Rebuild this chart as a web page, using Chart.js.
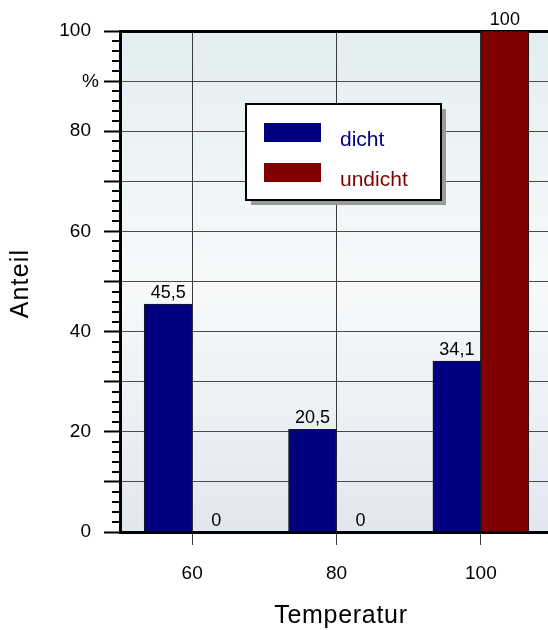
<!DOCTYPE html>
<html>
<head>
<meta charset="utf-8">
<script src="https://cdn.jsdelivr.net/npm/chart.js@4/dist/chart.umd.min.js"></script>
<style>
  html, body { margin: 0; padding: 0; background: #fff; overflow: hidden; }
  canvas { display: block; }
</style>
</head>
<body>
<canvas id="c" width="548" height="630"></canvas>
<script>
// Share of tight / leaky samples per temperature
const temperatures = [60, 80, 100];
const dichtValues = [45.5, 20.5, 34.1];
const undichtValues = [0, 0, 100];
const seriesNames = ['dicht', 'undicht'];
const yLabeledTicks = [0, 20, 40, 60, 80, 100];
const yUnitLabel = '%';
const yUnitTick = 90;
const xTitle = 'Temperatur';
const yTitle = 'Anteil';

const FONT = '"Liberation Sans", Arial, Helvetica, sans-serif';
const NAVY = '#000080';
const MAROON = '#800000';

function fmt(v) { return String(v).replace('.', ','); }

// Soft vertical gradient behind the plot
const backgroundPlugin = {
  id: 'plotBackground',
  beforeDraw(chart) {
    const { ctx, chartArea: a } = chart;
    const g = ctx.createLinearGradient(0, a.top, 0, a.bottom);
    g.addColorStop(0, '#e2eef0');
    g.addColorStop(0.5, '#f7f9fa');
    g.addColorStop(1, '#e2e6ef');
    ctx.save();
    ctx.fillStyle = g;
    ctx.fillRect(a.left, a.top, a.right - a.left, a.bottom - a.top);
    ctx.restore();
  }
};

// Minor ticks on the value axis, the unit label and both axis titles
const axisExtrasPlugin = {
  id: 'axisExtras',
  afterDraw(chart) {
    const { ctx, chartArea: a } = chart;
    const y = chart.scales.y;
    ctx.save();
    ctx.strokeStyle = '#000';
    ctx.lineWidth = 2;
    for (let v = y.min; v <= y.max; v += 2) {
      if (v % 10 === 0) continue;
      const py = Math.round(y.getPixelForValue(v));
      ctx.beginPath();
      ctx.moveTo(y.right - 8, py);
      ctx.lineTo(y.right, py);
      ctx.stroke();
    }
    ctx.fillStyle = '#000';
    ctx.font = '19px ' + FONT;
    ctx.textAlign = 'right';
    ctx.textBaseline = 'middle';
    ctx.fillText(yUnitLabel, y.right - 21, y.getPixelForValue(yUnitTick) + 1);

    // axis titles
    ctx.font = '25px ' + FONT;
    ctx.textAlign = 'center';
    ctx.textBaseline = 'alphabetic';
    ctx.letterSpacing = '0.7px';
    ctx.fillText(xTitle, (a.left + a.right) / 2 + 7, chart.height - 7);
    ctx.save();
    ctx.translate(28, (a.top + a.bottom) / 2 + 2);
    ctx.rotate(-Math.PI / 2);
    ctx.letterSpacing = '1.2px';
    ctx.fillText(yTitle, 0, 0);
    ctx.restore();
    ctx.restore();
  }
};

// Value labels above every bar
const valueLabelPlugin = {
  id: 'valueLabels',
  afterDatasetsDraw(chart) {
    const { ctx } = chart;
    ctx.save();
    ctx.fillStyle = '#000';
    ctx.font = '18px ' + FONT;
    ctx.textAlign = 'center';
    ctx.textBaseline = 'alphabetic';
    chart.data.datasets.forEach((ds, di) => {
      const meta = chart.getDatasetMeta(di);
      meta.data.forEach((el, i) => {
        ctx.fillText(fmt(ds.data[i]), el.x, el.y - 6);
      });
    });
    ctx.restore();
  }
};

// Boxed legend with drop shadow inside the plot
const boxLegendPlugin = {
  id: 'boxLegend',
  afterDraw(chart) {
    const { ctx, chartArea: a } = chart;
    const x = a.left + 126, yTop = a.top + 73, w = 195, h = 96;
    ctx.save();
    ctx.fillStyle = '#9a9a9a';
    ctx.fillRect(x + 5, yTop + 5, w, h);
    ctx.fillStyle = '#fff';
    ctx.fillRect(x, yTop, w, h);
    ctx.strokeStyle = '#000';
    ctx.lineWidth = 2;
    ctx.strokeRect(x, yTop, w, h);
    ctx.font = '21px ' + FONT;
    ctx.textAlign = 'left';
    ctx.textBaseline = 'alphabetic';
    chart.data.datasets.forEach((ds, i) => {
      const sy = yTop + 19 + i * 40;
      ctx.fillStyle = ds.backgroundColor;
      ctx.fillRect(x + 18, sy, 57, 19);
      ctx.fillText(ds.label, x + 94, sy + 23);
    });
    ctx.restore();
  }
};

new Chart(document.getElementById('c'), {
  type: 'bar',
  data: {
    labels: temperatures,
    datasets: [
      { label: seriesNames[0], data: dichtValues, backgroundColor: NAVY,
        borderColor: '#1a1a1a', borderWidth: 1, barThickness: 48 },
      { label: seriesNames[1], data: undichtValues, backgroundColor: MAROON,
        borderColor: '#1a1a1a', borderWidth: 1, barThickness: 48 }
    ]
  },
  options: {
    responsive: false,
    animation: false,
    events: [],
    layout: { padding: { top: 31, right: 0, left: 0, bottom: 0 } },
    plugins: { legend: { display: false }, tooltip: { enabled: false } },
    scales: {
      x: {
        type: 'linear',
        min: 50,
        max: 109.3,
        offset: false,
        afterBuildTicks(scale) { scale.ticks = temperatures.map(v => ({ value: v })); },
        afterFit(scale) { scale.height = 98; },
        grid: { offset: false, color: '#3a3a3a', lineWidth: 1, tickLength: 13,
                tickColor: '#3a3a3a', tickWidth: 1 },
        border: { display: true, color: '#000', width: 3 },
        ticks: { color: '#000', font: { family: FONT, size: 19 }, padding: 17 }
      },
      y: {
        min: 0,
        max: 100,
        afterFit(scale) { scale.width = 120; },
        ticks: {
          stepSize: 10,
          color: '#000',
          font: { family: FONT, size: 19 },
          padding: 13,
          callback: v => (yLabeledTicks.includes(v) ? String(v) : '')
        },
        grid: {
          color: c => (c.tick && c.tick.value === 100 ? '#000' : '#4a4a4a'),
          lineWidth: c => (c.tick && c.tick.value === 100 ? 3 : 1),
          tickLength: 16,
          tickColor: '#000',
          tickWidth: 2
        },
        border: { display: true, color: '#000', width: 3 }
      }
    }
  },
  plugins: [backgroundPlugin, axisExtrasPlugin, valueLabelPlugin, boxLegendPlugin]
});
</script>
</body>
</html>
